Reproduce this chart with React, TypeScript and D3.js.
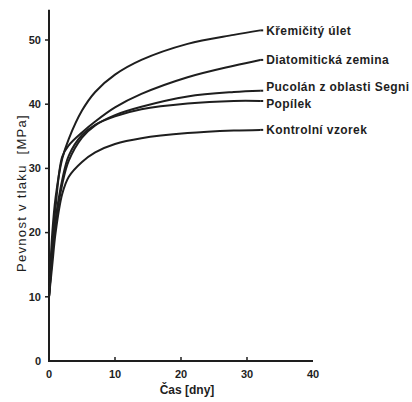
import React from "react";
import * as d3 from "d3";

const days = [0, 0.5, 1, 2, 3, 5, 7, 10, 14, 21, 28, 32];
const seriesNames = [
  "Křemičitý úlet",
  "Diatomitická zemina",
  "Pucolán z oblasti Segni",
  "Popílek",
  "Kontrolní vzorek",
];
const kremicity = [10, 20, 25.5, 31.5, 34.6, 39, 41.9, 44.6, 46.9, 49.4, 50.8, 51.5];
const diatomit = [10, 18, 24, 31.8, 33.6, 35.6, 37.3, 39.5, 41.6, 44.2, 46, 46.9];
const pucolan = [10, 16.5, 21.5, 27.5, 31.2, 34.8, 36.7, 38.3, 39.6, 41.2, 41.9, 42.1];
const popilek = [10, 16.5, 22, 28.2, 32, 35.2, 36.8, 38.1, 39.2, 40.1, 40.5, 40.5];
const kontrolni = [10, 15, 20, 26, 28.7, 31, 32.5, 33.8, 34.7, 35.5, 35.9, 36];
const seriesValues = [kremicity, diatomit, pucolan, popilek, kontrolni];
const labelOffsets = [0, 0, -3.5, 2.5, 0];

const xTicks = [0, 10, 20, 30, 40];
const yTicks = [0, 10, 20, 30, 40, 50];

export default function App() {
  const W = 412;
  const H = 402;
  const x = d3.scaleLinear().domain([0, 40]).range([49, 313]);
  const y = d3.scaleLinear().domain([0, 50]).range([361, 40]);
  const line = d3
    .line<[number, number]>()
    .x((d) => x(d[0]))
    .y((d) => y(d[1]))
    .curve(d3.curveCatmullRom.alpha(0.5));
  const ink = "#1e1e1e";
  const font = "'Liberation Sans', Arial, sans-serif";

  return (
    <svg
      width={W}
      height={H}
      style={{ position: "absolute", left: 0, top: 0, background: "#fff" }}
      fontFamily={font}
    >
      {/* axes */}
      <line x1={x(0)} y1={y(0)} x2={x(0)} y2={y(54.7)} stroke={ink} strokeWidth={2} />
      <line x1={x(0) - 1} y1={y(0)} x2={x(40)} y2={y(0)} stroke={ink} strokeWidth={2} />
      {yTicks.slice(1).map((t) => (
        <line key={"yt" + t} x1={x(0) - 4} x2={x(0)} y1={y(t)} y2={y(t)} stroke={ink} strokeWidth={1.5} />
      ))}
      {xTicks.slice(1, 4).map((t) => (
        <line key={"xt" + t} x1={x(t)} x2={x(t)} y1={y(0)} y2={y(0) - 4} stroke={ink} strokeWidth={1.5} />
      ))}
      {yTicks.map((t) => (
        <text
          key={"yl" + t}
          x={x(0) - 8}
          y={y(t)}
          dy="0.35em"
          textAnchor="end"
          fontSize={11}
          fontWeight="bold"
          fill={ink}
        >
          {t}
        </text>
      ))}
      {xTicks.map((t) => (
        <text
          key={"xl" + t}
          x={x(t)}
          y={y(0) + 13}
          dy="0.35em"
          textAnchor="middle"
          fontSize={11}
          fontWeight="bold"
          fill={ink}
        >
          {t}
        </text>
      ))}
      <text
        transform={`translate(21,193) rotate(-90)`}
        textAnchor="middle"
        dy="0.35em"
        fontSize={13}
        letterSpacing={1.3}
        fill={ink}
        style={{ whiteSpace: "pre" }}
      >
        {"Pevnost v tlaku  [MPa]"}
      </text>
      <text x={187} y={390} dy="0.35em" textAnchor="middle" fontSize={12} fontWeight="bold" fill={ink}>
        Čas [dny]
      </text>

      {/* curves */}
      {seriesValues.map((vals, i) => {
        const pts = days.map((d, j) => [d, vals[j]] as [number, number]);
        const last = pts[pts.length - 1];
        return (
          <g key={seriesNames[i]}>
            <path d={line(pts) || ""} fill="none" stroke={ink} strokeWidth={2} />
            <line
              x1={x(last[0])}
              x2={x(last[0]) + 3}
              y1={y(last[1])}
              y2={y(last[1])}
              stroke={ink}
              strokeWidth={2}
            />
            <text
              x={x(last[0]) + 6}
              y={y(last[1]) + labelOffsets[i]}
              dy="0.35em"
              fontSize={12}
              letterSpacing={0.4}
              fontWeight="bold"
              fill={ink}
            >
              {seriesNames[i]}
            </text>
          </g>
        );
      })}
    </svg>
  );
}
